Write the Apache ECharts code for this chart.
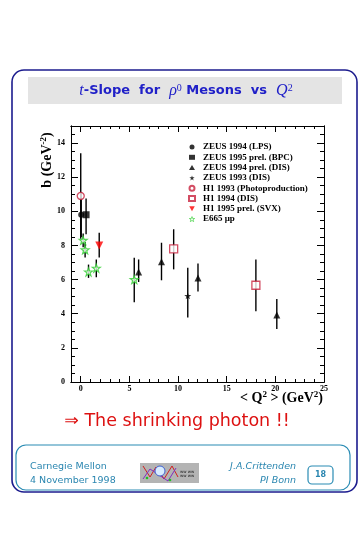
<!DOCTYPE html>
<html>
<head>
<meta charset="utf-8">
<script src="https://cdn.jsdelivr.net/npm/echarts@6/dist/echarts.min.js"></script>
<style>
html,body{margin:0;padding:0;background:#fff;}
#chart{width:363px;height:535px;}
</style>
</head>
<body>
<div id="chart"></div>
<script>
// Data: [Q2, b, errLow, errHigh]
var zeusLps94 = [[0.05, 9.8, 8.5, 11.1]];
var zeusBpc95 = [[0.55, 9.8, 8.65, 10.75]];
var zeusDis94 = [[5.95, 6.45, 5.86, 7.18], [8.3, 7.05, 5.96, 8.16], [12.05, 6.1, 5.31, 6.94], [20.15, 3.92, 3.1, 4.86]];
var zeusDis93 = [[11.0, 5.05, 3.78, 6.69]];
var h1Photo93 = [[0.0, 10.9, 8.4, 13.4]];
var h1Dis94 = [[9.55, 7.8, 6.6, 8.95], [18.0, 5.67, 4.14, 7.18]];
var h1Svx95 = [[1.9, 8.0, 7.3, 8.75]];
var e665 = [[0.25, 8.3, 7.9, 8.7], [0.45, 7.75, 7.3, 8.2], [0.8, 6.45, 6.1, 6.88], [1.6, 6.67, 6.14, 7.18], [5.5, 6.0, 4.67, 7.28]];

var seriesNames = ['ZEUS 1994 (LPS)', 'ZEUS 1995 prel. (BPC)', 'ZEUS 1994 prel. (DIS)', 'ZEUS 1993 (DIS)',
  'H1 1993 (Photoproduction)', 'H1 1994 (DIS)', 'H1 1995 prel. (SVX)', 'E665 \u03bcp'];
var xMajorTicks = [0, 5, 10, 15, 20, 25];

var STAR = 'path://M0,-10 L2.35,-3.24 L9.51,-3.09 L3.8,1.24 L5.88,8.09 L0,4 L-5.88,8.09 L-3.8,1.24 L-9.51,-3.09 L-2.35,-3.24 Z';
var DOWN = 'path://M-5,-4 L5,-4 L0,5 Z';

var chart = echarts.init(document.getElementById('chart'), null, {renderer: 'canvas'});

function errSeries(data) {
  return {
    type: 'custom', xAxisIndex: 0, yAxisIndex: 0, z: 1, silent: true,
    data: data, encode: {x: 0, y: 1},
    renderItem: function (params, api) {
      var x = api.value(0);
      var p1 = api.coord([x, api.value(2)]);
      var p2 = api.coord([x, api.value(3)]);
      return {type: 'line', shape: {x1: p1[0], y1: p1[1], x2: p2[0], y2: p2[1]},
        style: {stroke: '#000', lineWidth: 1.4}};
    }
  };
}
function pts(name, data, symbol, size, itemStyle) {
  return {
    type: 'scatter', name: name, xAxisIndex: 0, yAxisIndex: 0, z: 3,
    data: data.map(function (d) { return [d[0], d[1]]; }),
    symbol: symbol, symbolSize: size, itemStyle: itemStyle
  };
}

var lblFont = {fontFamily: 'Liberation Serif', fontWeight: 'bold', fontSize: 8, color: '#000'};
var common = {type: 'value', splitLine: {show: false}};
function xAx(pos, major, label) {
  var a = Object.assign({}, common, {
    min: -1, max: 25, position: pos,
    axisLine: {show: true, onZero: false, lineStyle: {color: '#000', width: 1}},
    axisTick: {show: true, inside: true, length: major ? 6 : 3, lineStyle: {color: '#000', width: 1}},
    axisLabel: {show: false}
  });
  if (major) {
    a.axisTick.customValues = xMajorTicks;
    if (label) a.axisLabel = Object.assign({show: true, customValues: xMajorTicks, margin: 3}, lblFont);
  } else {
    a.interval = 1;
  }
  return a;
}
function yAx(pos, major, label) {
  return Object.assign({}, common, {
    min: 0, max: 15, position: pos, interval: major ? 2 : 0.5,
    axisLine: {show: true, onZero: false, lineStyle: {color: '#000', width: 1}},
    axisTick: {show: true, inside: true, length: major ? 7 : 4, lineStyle: {color: '#000', width: 1}},
    axisLabel: label ? Object.assign({show: true, margin: 6, showMaxLabel: false}, lblFont) : {show: false}
  });
}

var red = '#c8203c';
var legendData = seriesNames.map(function (n, i) {
  if (i === 7) return {name: n, icon: STAR, itemStyle: {color: '#fff', borderColor: '#2ccc2c', borderWidth: 0.8}};
  return {name: n};
});
var option = {
  backgroundColor: '#fff',
  animation: false,
  grid: {left: 71, top: 126, right: 39, bottom: 153, containLabel: false},
  xAxis: [xAx('bottom', false), xAx('bottom', true, true), xAx('top', false), xAx('top', true, false)],
  yAxis: [yAx('left', true, true), yAx('left', false), yAx('right', true, false), yAx('right', false)],
  legend: {
    data: legendData, orient: 'vertical', left: 183, top: 137,
    itemWidth: 6, itemHeight: 5, itemGap: 0.3,
    textStyle: {fontFamily: 'Liberation Serif', fontWeight: 'bold', fontSize: 9, color: '#000', lineHeight: 10, padding: [0, 0, 0, 3]},
    selectedMode: false
  },
  series: [
    errSeries(zeusLps94), errSeries(zeusBpc95), errSeries(zeusDis94), errSeries(zeusDis93),
    errSeries(h1Photo93), errSeries(h1Dis94), errSeries(h1Svx95), errSeries(e665),
    pts(seriesNames[0], zeusLps94, 'circle', 6, {color: '#000'}),
    pts(seriesNames[1], zeusBpc95, 'rect', 7, {color: '#000'}),
    pts(seriesNames[2], zeusDis94, 'triangle', 7, {color: '#000'}),
    pts(seriesNames[3], zeusDis93, STAR, 7, {color: '#000'}),
    pts(seriesNames[4], h1Photo93, 'circle', 7, {color: '#fff', borderColor: red, borderWidth: 1.3}),
    pts(seriesNames[5], h1Dis94, 'rect', 8, {color: '#fff', borderColor: red, borderWidth: 1.3}),
    pts(seriesNames[6], h1Svx95, DOWN, 8, {color: '#ff0000'}),
    pts(seriesNames[7], e665, STAR, 8, {color: '#fff', borderColor: '#2ccc2c', borderWidth: 1.2})
  ],
  graphic: [
    {type: 'rect', z: 0, shape: {x: 12, y: 70, width: 345, height: 422, r: 12},
      style: {fill: 'none', stroke: '#1c1c8e', lineWidth: 1.6}},
    {type: 'rect', z: 0, shape: {x: 28, y: 77, width: 314, height: 27}, style: {fill: '#e4e4e4'}},
    {type: 'text', x: 186, y: 91, z: 5, style: {
      text: '{i|t}{b|-Slope  for  }{g|\u03c1}{s|0}{b| Mesons  vs  }{g|Q}{s|2}',
      align: 'center', verticalAlign: 'middle',
      rich: {
        i: {fontFamily: 'Liberation Serif', fontStyle: 'italic', fontSize: 16, fill: '#2020c8'},
        b: {fontFamily: 'DejaVu Sans', fontWeight: 'bold', fontSize: 13, fill: '#2020c8'},
        g: {fontFamily: 'Liberation Serif', fontStyle: 'italic', fontSize: 16, fill: '#2020c8'},
        s: {fontFamily: 'Liberation Serif', fontSize: 10, fill: '#2020c8', verticalAlign: 'top', lineHeight: 10}
      }}},
    {type: 'text', x: 47, y: 160, rotation: Math.PI / 2, z: 5, style: {
      text: '{b|b (GeV}{s|-2}{b|)}', align: 'center', verticalAlign: 'middle',
      rich: {
        b: {fontFamily: 'Liberation Serif', fontWeight: 'bold', fontSize: 14, fill: '#000', lineHeight: 16},
        s: {fontFamily: 'Liberation Serif', fontWeight: 'bold', fontSize: 9, fill: '#000', verticalAlign: 'top', lineHeight: 9}
      }}},
    {type: 'text', x: 323, y: 398, z: 5, style: {
      text: '{b|< Q}{s|2}{b| > (GeV}{s|2}{b|)}', align: 'right', verticalAlign: 'middle',
      rich: {
        b: {fontFamily: 'Liberation Serif', fontWeight: 'bold', fontSize: 14, fill: '#000', lineHeight: 16},
        s: {fontFamily: 'Liberation Serif', fontWeight: 'bold', fontSize: 9, fill: '#000', verticalAlign: 'top', lineHeight: 9}
      }}},
    {type: 'text', x: 177, y: 421, z: 5, style: {
      text: '\u21d2 The shrinking photon !!', align: 'center', verticalAlign: 'middle',
      fontFamily: 'DejaVu Sans', fontSize: 17.5, fill: '#dd1111'}},
    {type: 'rect', z: 0, shape: {x: 16, y: 445, width: 334, height: 45, r: 10},
      style: {fill: 'none', stroke: '#2a8cb4', lineWidth: 1.2}},
    {type: 'text', x: 30, y: 467, z: 5, style: {text: 'Carnegie Mellon', align: 'left', verticalAlign: 'middle',
      fontFamily: 'DejaVu Sans', fontSize: 9.5, fill: '#2a86b0'}},
    {type: 'text', x: 30, y: 481, z: 5, style: {text: '4 November 1998', align: 'left', verticalAlign: 'middle',
      fontFamily: 'DejaVu Sans', fontSize: 9.5, fill: '#2a86b0'}},
    {type: 'text', x: 296, y: 467, z: 5, style: {text: 'J.A.Crittenden', align: 'right', verticalAlign: 'middle',
      fontFamily: 'DejaVu Sans', fontStyle: 'italic', fontSize: 9.5, fill: '#2a86b0'}},
    {type: 'text', x: 296, y: 481, z: 5, style: {text: 'PI Bonn', align: 'right', verticalAlign: 'middle',
      fontFamily: 'DejaVu Sans', fontStyle: 'italic', fontSize: 9.5, fill: '#2a86b0'}},
    {type: 'rect', z: 0, shape: {x: 308, y: 466, width: 25, height: 18, r: 4},
      style: {fill: 'none', stroke: '#2a8cb4', lineWidth: 1.2}},
    {type: 'text', x: 320.5, y: 475, z: 5, style: {text: '18', align: 'center', verticalAlign: 'middle',
      fontFamily: 'DejaVu Sans', fontWeight: 'bold', fontSize: 8, fill: '#2a86b0'}},
    {type: 'group', z: 1, children: [
      {type: 'rect', shape: {x: 140, y: 463, width: 59, height: 20}, style: {fill: '#b4b4b4'}},
      {type: 'polyline', shape: {points: [[143, 466], [150, 477], [156, 467], [164, 479], [172, 466], [178, 477]]},
        style: {stroke: '#d02020', fill: 'none', lineWidth: 1}},
      {type: 'polyline', shape: {points: [[143, 479], [150, 469], [168, 481], [176, 468]]},
        style: {stroke: '#8030c0', fill: 'none', lineWidth: 1}},
      {type: 'circle', shape: {cx: 160, cy: 471, r: 5}, style: {fill: '#d8ecff', stroke: '#4060d0', lineWidth: 1}},
      {type: 'circle', shape: {cx: 147, cy: 478, r: 1.3}, style: {fill: '#20c020'}},
      {type: 'circle', shape: {cx: 170, cy: 480, r: 1.3}, style: {fill: '#20c020'}},
      {type: 'text', x: 180, y: 470, style: {text: 'ww ww\nww ww', fontSize: 4, fill: '#222', fontFamily: 'DejaVu Sans', lineHeight: 4}}
    ]}
  ]
};
chart.setOption(option);
</script>
</body>
</html>
